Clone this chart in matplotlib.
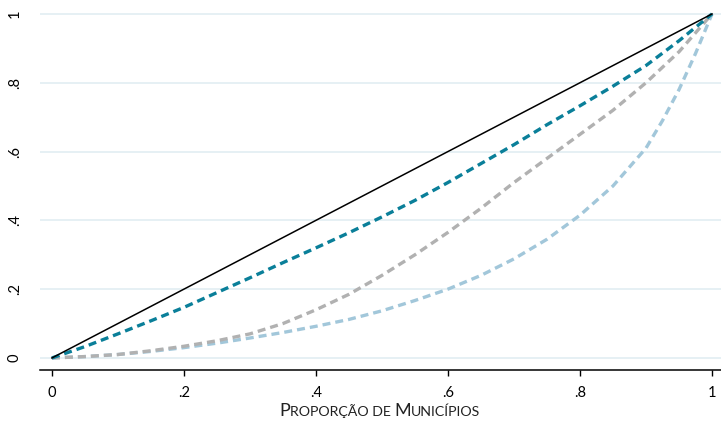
import numpy as np
import matplotlib
matplotlib.use("Agg")
import matplotlib.pyplot as plt
from matplotlib.offsetbox import TextArea, HPacker, AnnotationBbox

plt.rcParams['font.family'] = ['Lato', 'DejaVu Sans']

# Lorenz-type curves
x_prop = [0, 0.05, 0.1, 0.15, 0.2, 0.25, 0.3, 0.35, 0.4, 0.45, 0.5,
          0.55, 0.6, 0.65, 0.7, 0.75, 0.8, 0.85, 0.9, 0.95, 1.0]
equality = [0, 1.0]
x_equality = [0, 1.0]
teal_curve = [0, 0.033, 0.07, 0.108, 0.147, 0.19, 0.233, 0.277, 0.32, 0.364, 0.41,
              0.458, 0.51, 0.565, 0.62, 0.678, 0.733, 0.79, 0.85, 0.922, 1.0]
gray_curve = [0, 0.004, 0.01, 0.021, 0.034, 0.05, 0.07, 0.10, 0.14, 0.185, 0.24,
              0.30, 0.365, 0.435, 0.51, 0.58, 0.65, 0.72, 0.80, 0.89, 1.0]

x_blue = [0, 0.05, 0.1, 0.15, 0.2, 0.25, 0.3, 0.35, 0.4, 0.45, 0.5,
          0.55, 0.6, 0.65, 0.7, 0.75, 0.8, 0.85, 0.9, 0.925, 0.95, 0.975, 1.0]
blue_curve = [0, 0.004, 0.01, 0.019, 0.03, 0.043, 0.058, 0.074, 0.092, 0.112, 0.137,
              0.167, 0.20, 0.24, 0.288, 0.345, 0.415, 0.50, 0.61, 0.69, 0.78, 0.885, 1.0]

xticks = [0, 0.2, 0.4, 0.6, 0.8, 1.0]
xtick_labels = ['0', '.2', '.4', '.6', '.8', '1']
yticks = [0, 0.2, 0.4, 0.6, 0.8, 1.0]
ytick_labels = ['0', '.2', '.4', '.6', '.8', '1']

fig = plt.figure(figsize=(7.21, 4.33), dpi=100)
ax = fig.add_axes([0.0555, 0.1455, 0.9445, 0.843])

dash = (2.4, 1.5)
ax.plot(x_blue, blue_curve, color='#a2c7da', lw=2.4, dashes=dash, zorder=3)
ax.plot(x_prop, gray_curve, color='#b1b1b1', lw=2.4, dashes=dash, zorder=4)
ax.plot(x_prop, teal_curve, color='#0a7f99', lw=2.4, dashes=dash, zorder=5)
ax.plot(x_equality, equality, color='black', lw=1.1, zorder=6)

ax.set_xlim(-0.018, 1.0136)
ax.set_ylim(-0.035, 1.026)

ax.set_xticks(xticks)
ax.set_xticklabels(xtick_labels)
ax.set_yticks(yticks)
ax.set_yticklabels(ytick_labels, rotation=90, va='center')

ax.tick_params(axis='x', length=4.3, width=1, pad=7, labelsize=10.5, colors='black')
ax.tick_params(axis='y', length=0, pad=13, labelsize=10.5)

ax.yaxis.grid(True, color='#e2eef2', lw=1.2)
ax.set_axisbelow(True)
for s in ['top', 'right', 'left']:
    ax.spines[s].set_visible(False)
ax.spines['bottom'].set_linewidth(1.1)

# small-caps style x label
big, small = 13, 10.2
parts = [('P', big), ('ROPORÇÃO DE ', small), ('M', big), ('UNICÍPIOS', small)]
boxes = [TextArea(t, textprops=dict(fontsize=s, color='#222222')) for t, s in parts]
pack = HPacker(children=boxes, align='baseline', pad=0, sep=0)
ab = AnnotationBbox(pack, (0.527, 0.05), xycoords='figure fraction',
                    box_alignment=(0.5, 0.5), frameon=False)
fig.add_artist(ab)

fig.savefig('out.png', dpi=100)
